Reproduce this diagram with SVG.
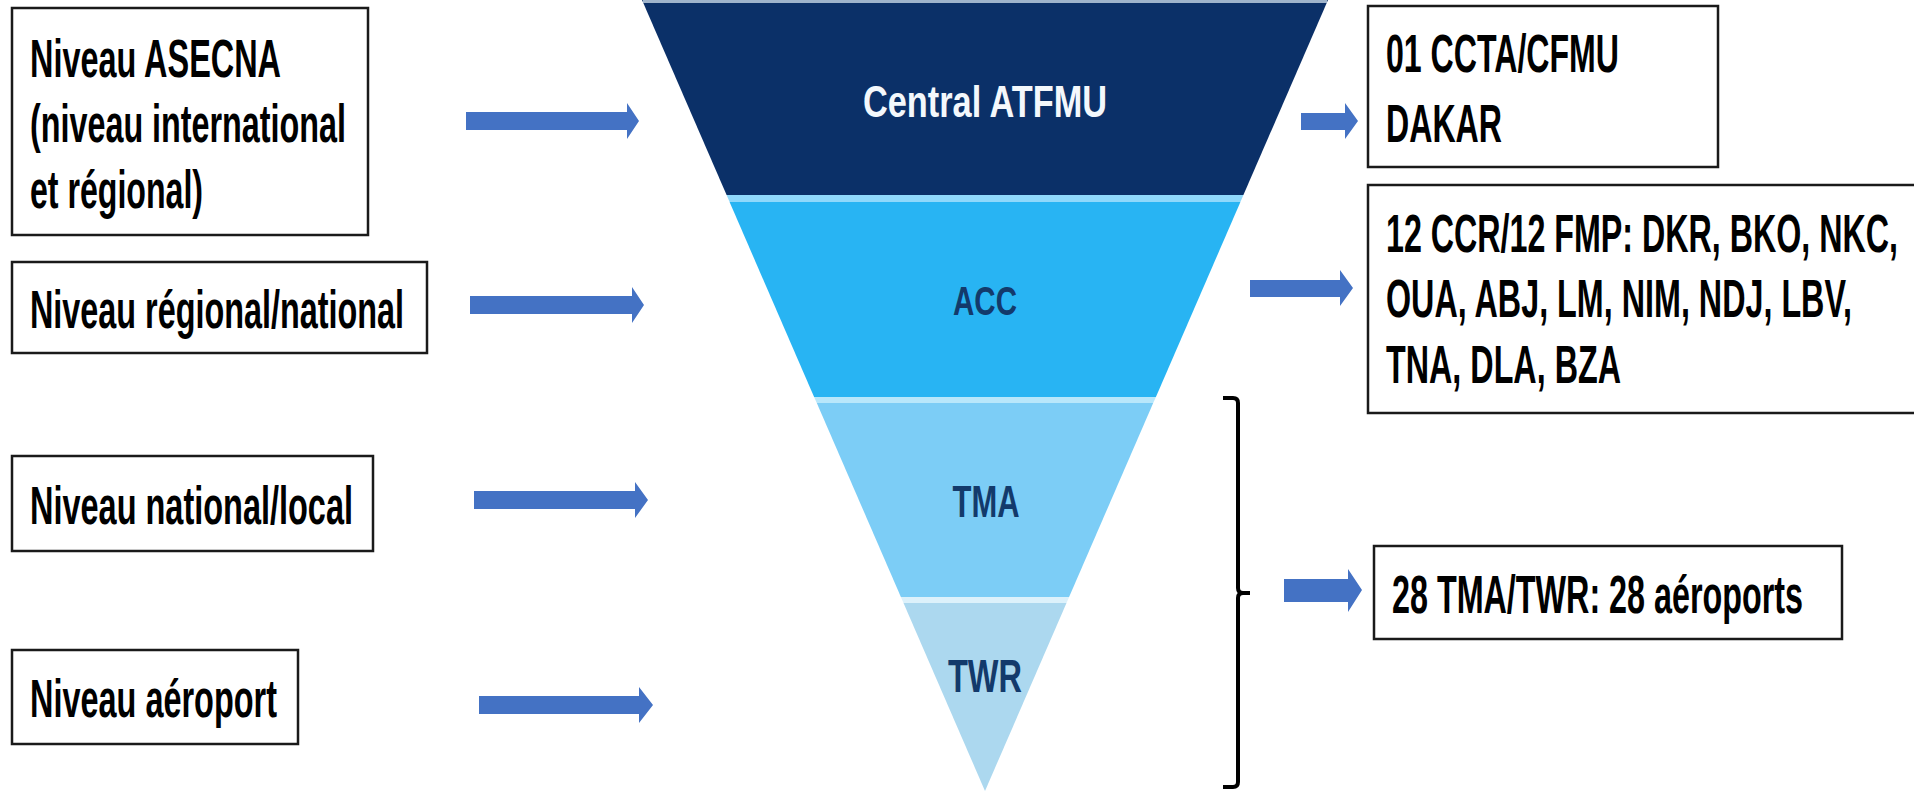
<svg xmlns="http://www.w3.org/2000/svg" width="1914" height="792" viewBox="0 0 1914 792">
  <style>
    .box { fill: #ffffff; stroke: #1a1a1a; stroke-width: 2.5; }
    .lbl { font-family: "Liberation Sans Narrow", "Liberation Sans", Arial, sans-serif; font-weight: bold; font-size: 54px; fill: #000000; }
    .band { font-family: "Liberation Sans", Arial, sans-serif; font-weight: bold; fill: #133a6b; }
    .arrow { fill: #4472c4; }
    .brace { fill: none; stroke: #000000; stroke-width: 4; stroke-linejoin: round; }
  </style>
  <rect x="0" y="0" width="1914" height="792" fill="#ffffff"/>

  <g id="funnel">
    <polygon points="642,0 1328,0 1243.4,195 726.6,195" fill="#0b3068"/>
    <line x1="643" y1="1.5" x2="1327" y2="1.5" stroke="#9fb4cc" stroke-width="3"/>
    <polygon points="726.6,195 1243.4,195 1240.4,202 729.6,202" fill="#8fd8fb"/>
    <polygon points="729.6,202 1240.4,202 1155.9,397 814.1,397" fill="#28b4f3"/>
    <polygon points="814.1,397 1155.9,397 1153.2,403 816.8,403" fill="#b8e7fb"/>
    <polygon points="816.8,403 1153.2,403 1069.1,597 900.9,597" fill="#7ccdf6"/>
    <polygon points="900.9,597 1069.1,597 1066.5,603 903.5,603" fill="#dcf1fb"/>
    <polygon points="903.5,603 1066.5,603 985,791" fill="#acd8ef"/>
    <text x="985" y="117" text-anchor="middle" font-family="Liberation Sans, Arial, sans-serif" font-weight="bold" font-size="44" fill="#f4f8fc" textLength="244" lengthAdjust="spacingAndGlyphs">Central ATFMU</text>
    <text class="band" x="985" y="315" text-anchor="middle" font-size="40" textLength="64" lengthAdjust="spacingAndGlyphs">ACC</text>
    <text class="band" x="986" y="517" text-anchor="middle" font-size="44" textLength="67" lengthAdjust="spacingAndGlyphs">TMA</text>
    <text class="band" x="985" y="692" text-anchor="middle" font-size="47" textLength="74" lengthAdjust="spacingAndGlyphs">TWR</text>
  </g>

  <g id="box-asecna">
    <rect class="box" x="12" y="8" width="356" height="227"/>
    <text class="lbl" x="30" y="77" textLength="251" lengthAdjust="spacingAndGlyphs">Niveau ASECNA</text>
    <text class="lbl" x="30" y="142" textLength="316" lengthAdjust="spacingAndGlyphs">(niveau international</text>
    <text class="lbl" x="30" y="208" textLength="173" lengthAdjust="spacingAndGlyphs">et régional)</text>
  </g>
  <g id="box-regional">
    <rect class="box" x="12" y="262" width="415" height="91"/>
    <text class="lbl" x="30" y="328" textLength="374" lengthAdjust="spacingAndGlyphs">Niveau régional/national</text>
  </g>
  <g id="box-national">
    <rect class="box" x="12" y="456" width="361" height="95"/>
    <text class="lbl" x="30" y="524" textLength="323" lengthAdjust="spacingAndGlyphs">Niveau national/local</text>
  </g>
  <g id="box-aeroport">
    <rect class="box" x="12" y="650" width="286" height="94"/>
    <text class="lbl" x="30" y="717" textLength="247" lengthAdjust="spacingAndGlyphs">Niveau aéroport</text>
  </g>

  <g id="box-ccta">
    <rect class="box" x="1368" y="6" width="350" height="161"/>
    <text class="lbl" x="1386" y="72" textLength="233" lengthAdjust="spacingAndGlyphs">01 CCTA/CFMU</text>
    <text class="lbl" x="1386" y="142" textLength="116" lengthAdjust="spacingAndGlyphs">DAKAR</text>
  </g>
  <g id="box-ccr">
    <path class="box" d="M1914,185 H1368 V413 H1914"/>
    <text class="lbl" x="1386" y="252" textLength="512" lengthAdjust="spacingAndGlyphs">12 CCR/12 FMP: DKR, BKO, NKC,</text>
    <text class="lbl" x="1386" y="317" textLength="466" lengthAdjust="spacingAndGlyphs">OUA, ABJ, LM, NIM, NDJ, LBV,</text>
    <text class="lbl" x="1386" y="383" textLength="235" lengthAdjust="spacingAndGlyphs">TNA, DLA, BZA</text>
  </g>
  <g id="box-tma">
    <rect class="box" x="1374" y="546" width="468" height="93"/>
    <text class="lbl" x="1392" y="613" textLength="411" lengthAdjust="spacingAndGlyphs">28 TMA/TWR: 28 aéroports</text>
  </g>

  <g id="connectors">
    <polygon class="arrow" points="466,112 627,112 627,103 639,121 627,139 627,130 466,130"/>
    <polygon class="arrow" points="470,296 632,296 632,287 644,305 632,323 632,314 470,314"/>
    <polygon class="arrow" points="474,491 635,491 635,482 648,500 635,518 635,509 474,509"/>
    <polygon class="arrow" points="479,696 639,696 639,687 653,705 639,723 639,714 479,714"/>
    <polygon class="arrow" points="1301,113 1345,113 1345,103 1358,121 1345,139 1345,130 1301,130"/>
    <polygon class="arrow" points="1250,280 1340,280 1340,270 1353,288 1340,306 1340,297 1250,297"/>
    <polygon class="arrow" points="1284,579 1348,579 1348,569 1362,590 1348,612 1348,602 1284,602"/>
    <path class="brace" d="M1223,398 L1233,398 Q1238,398 1238,403 L1238,588 Q1238,593 1243,593 L1250,593 M1243,593 Q1238,593 1238,598 L1238,782 Q1238,787 1233,787 L1223,787"/>
  </g>
</svg>
